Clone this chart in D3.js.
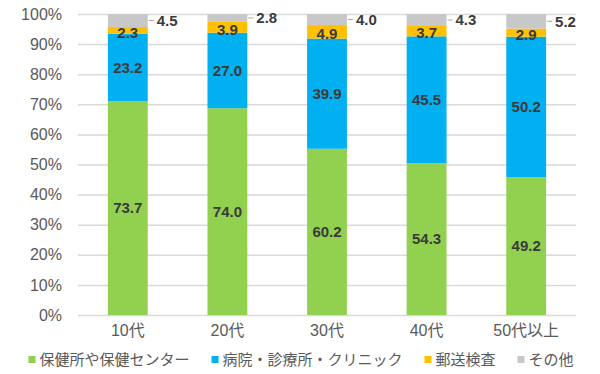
<!DOCTYPE html>
<html lang="ja">
<head>
    <meta charset="utf-8">
    <script src="https://d3js.org/d3.v7.min.js"></script>
    <title>検査場所</title>
    <style>
        body { margin: 0; background: #fff; }
        svg { display: block; }
    </style>
</head>
<body>
    <div id="container"></div>
    <script>
        // data (labels are raw values, bars are 100% stacked)
        const ages = ["10代", "20代", "30代", "40代", "50代以上"];
        const seriesNames = ["保健所や保健センター", "病院・診療所・クリニック", "郵送検査", "その他"];
        const hokenjo = [73.7, 74.0, 60.2, 54.3, 49.2];
        const byoin = [23.2, 27.0, 39.9, 45.5, 50.2];
        const yuso = [2.3, 3.9, 4.9, 3.7, 2.9];
        const sonota = [4.5, 2.8, 4.0, 4.3, 5.2];
        const yTicks = [0, 10, 20, 30, 40, 50, 60, 70, 80, 90, 100];

        const colors = ["#92D050", "#00B0F0", "#FFC000", "#C8C8C8"];
        const keys = ["s0", "s1", "s2", "s3"];

        const rows = ages.map((a, i) => ({
            age: a, s0: hokenjo[i], s1: byoin[i], s2: yuso[i], s3: sonota[i]
        }));

        const w = 600;
        const h = 374;
        const margin = {top: 14, right: 24, bottom: 59, left: 78};

        const svg = d3.select("#container").append("svg").attr("width", w).attr("height", h);

        const xScale = d3.scaleBand().domain(ages)
            .range([margin.left, w - margin.right])
            .paddingInner(0.6).paddingOuter(0.3);
        const yScale = d3.scaleLinear().domain([0, 1]).range([h - margin.bottom, margin.top]);

        const stack = d3.stack().keys(keys).offset(d3.stackOffsetExpand);
        const layers = stack(rows);

        // grid + y axis
        const yAxis = d3.axisLeft(yScale)
            .tickValues(yTicks.map(t => t / 100))
            .tickSize(-(w - margin.left - margin.right))
            .tickPadding(16)
            .tickFormat(d => Math.round(d * 100) + "%");
        const gy = svg.append("g").attr("transform", "translate(" + margin.left + ",0)").call(yAxis);
        gy.select(".domain").remove();
        gy.selectAll(".tick line").attr("stroke", "#D9D9D9").attr("stroke-width", 1.5);
        gy.selectAll(".tick text")
            .attr("fill", "#595959")
            .style("font-family", "'Liberation Sans', Arial, sans-serif")
            .style("font-size", "16px");

        // x axis labels
        const xAxis = d3.axisBottom(xScale).tickSize(0).tickPadding(10);
        const gx = svg.append("g").attr("transform", "translate(0," + (h - margin.bottom) + ")").call(xAxis);
        gx.select(".domain").remove();
        gx.selectAll(".tick text")
            .attr("fill", "#595959")
            .style("font-family", "'Liberation Sans', 'Noto Sans CJK JP', sans-serif")
            .style("font-size", "16px");

        // bars
        const layerG = svg.selectAll("g.layer")
            .data(layers)
            .enter()
            .append("g")
            .attr("class", "layer")
            .attr("fill", (d, i) => colors[i]);

        layerG.selectAll("rect")
            .data(d => d)
            .enter()
            .append("rect")
            .attr("x", d => xScale(d.data.age))
            .attr("width", xScale.bandwidth())
            .attr("y", d => yScale(d[1]))
            .attr("height", d => yScale(d[0]) - yScale(d[1]));

        const labelFont = "'Liberation Sans', Arial, sans-serif";

        // labels inside the first three series
        layers.slice(0, 3).forEach((layer, li) => {
            svg.append("g").selectAll("text")
                .data(layer)
                .enter()
                .append("text")
                .attr("x", d => xScale(d.data.age) + xScale.bandwidth() / 2)
                .attr("y", d => (yScale(d[0]) + yScale(d[1])) / 2 + (li == 2 ? 2 : 0))
                .attr("dy", "0.35em")
                .attr("text-anchor", "middle")
                .attr("fill", "#3A3A3A")
                .style("font-family", labelFont)
                .style("font-weight", "bold")
                .style("font-size", "15px")
                .text(d => d.data[keys[li]].toFixed(1));
        });

        // その他 labels sit outside the bar with a short leader line
        const other = layers[3];
        const og = svg.append("g");
        og.selectAll("line")
            .data(other)
            .enter()
            .append("line")
            .attr("x1", d => xScale(d.data.age) + xScale.bandwidth() + 1)
            .attr("x2", d => xScale(d.data.age) + xScale.bandwidth() + 6)
            .attr("y1", d => (yScale(d[0]) + yScale(d[1])) / 2)
            .attr("y2", d => (yScale(d[0]) + yScale(d[1])) / 2)
            .attr("stroke", "#A6A6A6")
            .attr("stroke-width", 1);
        og.selectAll("text")
            .data(other)
            .enter()
            .append("text")
            .attr("x", d => xScale(d.data.age) + xScale.bandwidth() + 9)
            .attr("y", d => (yScale(d[0]) + yScale(d[1])) / 2)
            .attr("dy", "0.35em")
            .attr("fill", "#3A3A3A")
            .style("font-family", labelFont)
            .style("font-weight", "bold")
            .style("font-size", "15px")
            .text(d => d.data.s3.toFixed(1));

        // legend, laid out left to right and centred
        const legend = svg.append("g").attr("id", "legend");
        const items = legend.selectAll("g")
            .data(seriesNames)
            .enter()
            .append("g");
        items.append("rect")
            .attr("width", 7).attr("height", 7)
            .attr("y", -4)
            .attr("fill", (d, i) => colors[i]);
        items.append("text")
            .attr("x", 11)
            .attr("dy", "0.35em")
            .attr("fill", "#595959")
            .style("font-family", "'Noto Sans CJK JP', sans-serif")
            .style("font-size", "15px")
            .text(d => d);

        let cx = 0;
        items.each(function() {
            const g = d3.select(this);
            g.attr("transform", "translate(" + cx + ",0)");
            cx += 11 + g.select("text").node().getComputedTextLength() + 22;
        });
        const totalW = cx - 22;
        legend.attr("transform", "translate(" + ((w - totalW) / 2 + 1) + ",360)");
    </script>
</body>
</html>
